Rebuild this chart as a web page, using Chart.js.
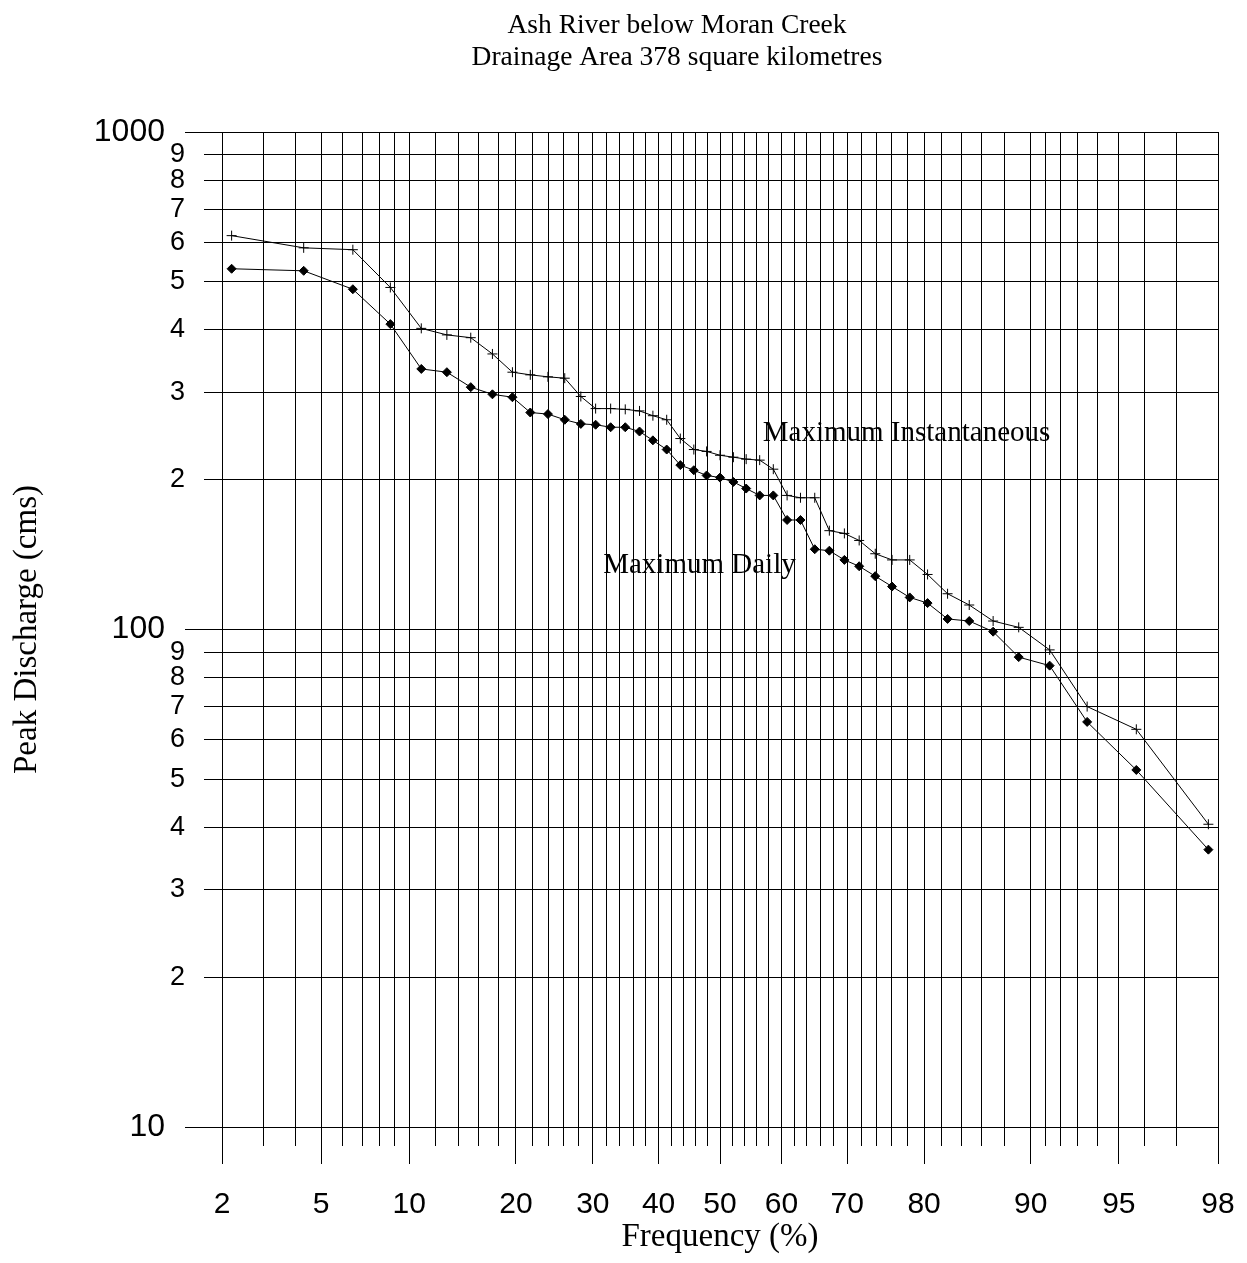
<!DOCTYPE html>
<html>
<head>
<meta charset="utf-8">
<title>Ash River below Moran Creek</title>
<script src="https://cdn.jsdelivr.net/npm/chart.js@4.4.0/dist/chart.umd.min.js"></script>
<style>
  html, body { margin: 0; padding: 0; background: #fff; }
  canvas { display: block; }
</style>
</head>
<body>
<canvas id="chart" width="1247" height="1263"></canvas>
<script>
// ---------------- data ----------------
const titleLines = ['Ash River below Moran Creek', 'Drainage Area 378 square kilometres'];

// plotting positions (frequency, %)
const frequency = [2.2, 4.3, 6.5, 8.7, 10.9, 13.0, 15.2, 17.4, 19.6, 21.7, 23.9, 26.1, 28.3, 30.4, 32.6,
  34.8, 37.0, 39.1, 41.3, 43.5, 45.7, 47.8, 50.0, 52.2, 54.3, 56.5, 58.7, 60.9, 63.0, 65.2,
  67.4, 69.6, 71.7, 73.9, 76.1, 78.3, 80.4, 82.6, 84.8, 87.0, 89.1, 91.3, 93.5, 95.7, 97.8];

// peak discharge (cms)
const maxInstantaneous = [619, 585, 580, 487, 403, 391, 386, 358, 329, 325, 322, 320, 294, 278, 278,
  277, 275, 269, 264, 242, 230, 228, 224, 222, 220, 219, 210, 186, 184, 184,
  158, 156, 151, 142, 138, 138, 129, 118, 112, 104, 101, 91, 70, 63, 40.6];

const maxDaily = [531, 526, 483, 411, 334, 329, 307, 297, 293, 273, 271, 264, 259, 258, 255,
  255, 250, 240, 230, 214, 209, 204, 202, 198, 192, 186, 186, 166, 166, 145,
  144, 138, 134, 128, 122, 116, 113, 105, 104, 99, 88, 84.6, 65.2, 52.2, 36.1];

// axis grid / tick values
const xGridValues = [2, 3, 4, 5, 6, 7, 8, 9, 10, 12, 14, 16, 18, 20, 22, 24, 26, 28, 30, 32, 34, 36, 38,
  40, 42, 44, 46, 48, 50, 52, 54, 56, 58, 60, 62, 64, 66, 68, 70, 72, 74, 76, 78, 80, 82, 84, 86, 88,
  90, 91, 92, 93, 94, 95, 96, 97, 98];
const xTickLabels = [2, 5, 10, 20, 30, 40, 50, 60, 70, 80, 90, 95, 98];

const yGridValues = [10, 20, 30, 40, 50, 60, 70, 80, 90, 100, 200, 300, 400, 500, 600, 700, 800, 900, 1000];
const yMajorValues = [10, 100, 1000];

const annotations = [
  { text: 'Maximum Instantaneous', x: 57.0, y: 239 },
  { text: 'Maximum Daily', x: 31.5, y: 130 }
];

// ---------------- normal probability scale ----------------
function probit(p) {
  const a = [-3.969683028665376e+01, 2.209460984245205e+02, -2.759285104469687e+02, 1.383577518672690e+02, -3.066479806614716e+01, 2.506628277459239e+00];
  const b = [-5.447609879822406e+01, 1.615858368580409e+02, -1.556989798598866e+02, 6.680131188771972e+01, -1.328068155288572e+01];
  const c = [-7.784894002430293e-03, -3.223964580411365e-01, -2.400758277161838e+00, -2.549732539343734e+00, 4.374664141464968e+00, 2.938163982698783e+00];
  const d = [7.784695709041462e-03, 3.224671290700398e-01, 2.445134137142996e+00, 3.754408661907416e+00];
  const pl = 0.02425, ph = 1 - pl;
  let q, r;
  if (p < pl) {
    q = Math.sqrt(-2 * Math.log(p));
    return (((((c[0]*q+c[1])*q+c[2])*q+c[3])*q+c[4])*q+c[5]) / ((((d[0]*q+d[1])*q+d[2])*q+d[3])*q+1);
  }
  if (p <= ph) {
    q = p - 0.5; r = q * q;
    return (((((a[0]*r+a[1])*r+a[2])*r+a[3])*r+a[4])*r+a[5])*q / (((((b[0]*r+b[1])*r+b[2])*r+b[3])*r+b[4])*r+1);
  }
  q = Math.sqrt(-2 * Math.log(1 - p));
  return -(((((c[0]*q+c[1])*q+c[2])*q+c[3])*q+c[4])*q+c[5]) / ((((d[0]*q+d[1])*q+d[2])*q+d[3])*q+1);
}
function normCdf(z) {
  const t = 1 / (1 + 0.3275911 * Math.abs(z) / Math.SQRT2);
  const y = 1 - (((((1.061405429*t - 1.453152027)*t) + 1.421413741)*t - 0.284496736)*t + 0.254829592)*t*Math.exp(-z*z/2);
  return z >= 0 ? 0.5 * (1 + y) : 0.5 * (1 - y);
}

class ProbabilityScale extends Chart.Scale {
  determineDataLimits() {
    this.min = this.options.min;
    this.max = this.options.max;
  }
  buildTicks() {
    return xGridValues.map(v => ({ value: v }));
  }
  getLabelForValue(value) {
    return String(value);
  }
  configure() {
    super.configure();
    this._zStart = probit(this.min / 100);
    this._zRange = probit(this.max / 100) - this._zStart;
  }
  getPixelForValue(value) {
    return this.getPixelForDecimal((probit(value / 100) - this._zStart) / this._zRange);
  }
  getValueForPixel(pixel) {
    return 100 * normCdf(this._zStart + this.getDecimalForPixel(pixel) * this._zRange);
  }
}
ProbabilityScale.id = 'probability';
ProbabilityScale.defaults = {};
Chart.register(ProbabilityScale);

// major y labels and in-plot series labels
const extraText = {
  id: 'extraText',
  afterDraw(chart) {
    const { ctx, scales: { x, y } } = chart;
    ctx.save();
    ctx.fillStyle = '#000';
    ctx.font = '32px "Liberation Sans", Arial, sans-serif';
    ctx.textAlign = 'right';
    ctx.textBaseline = 'middle';
    yMajorValues.forEach(v => ctx.fillText(String(v), y.right - 57, y.getPixelForValue(v)));
    ctx.font = '29px "Liberation Serif", "Times New Roman", serif';
    ctx.textAlign = 'left';
    ctx.textBaseline = 'alphabetic';
    annotations.forEach(a => ctx.fillText(a.text, x.getPixelForValue(a.x), y.getPixelForValue(a.y)));
    ctx.restore();
  }
};

const serif = '"Liberation Serif", "Times New Roman", serif';
const sans = '"Liberation Sans", Arial, sans-serif';

new Chart(document.getElementById('chart'), {
  type: 'scatter',
  data: {
    datasets: [
      {
        label: 'Maximum Instantaneous',
        data: frequency.map((f, i) => ({ x: f, y: maxInstantaneous[i] })),
        showLine: true,
        borderColor: '#000',
        borderWidth: 1,
        pointStyle: 'cross',
        pointRadius: 5,
        pointBorderWidth: 1,
        pointBorderColor: '#000',
        tension: 0
      },
      {
        label: 'Maximum Daily',
        data: frequency.map((f, i) => ({ x: f, y: maxDaily[i] })),
        showLine: true,
        borderColor: '#000',
        borderWidth: 1,
        pointStyle: 'rectRot',
        pointRadius: 4.5,
        pointBackgroundColor: '#000',
        pointBorderColor: '#000',
        pointBorderWidth: 1,
        tension: 0
      }
    ]
  },
  options: {
    responsive: false,
    devicePixelRatio: 1,
    animation: false,
    layout: { padding: { left: 136, right: 29, top: 9.7, bottom: 0 } },
    plugins: {
      legend: { display: false },
      tooltip: { enabled: false },
      title: {
        display: true,
        text: titleLines,
        color: '#000',
        font: { family: serif, size: 27.5, weight: 'normal', lineHeight: '32px' },
        padding: { top: 0, bottom: 58.3 }
      }
    },
    scales: {
      x: {
        type: 'probability',
        position: 'bottom',
        min: 2,
        max: 98,
        afterFit: s => { s.height = 136; },
        ticks: {
          autoSkip: false,
          maxRotation: 0,
          minRotation: 0,
          padding: 0,
          color: '#000',
          font: { family: sans, size: 30, lineHeight: '82px' },
          callback: v => xTickLabels.includes(v) ? String(v) : ''
        },
        grid: {
          color: '#000',
          lineWidth: 1,
          tickLength: 37,
          tickColor: '#000',
          tickWidth: 1,
          tickBorderDash: ctx => (ctx.tick && xTickLabels.includes(ctx.tick.value)) ? [] : [18, 100]
        },
        border: { display: true, color: '#000', width: 1 },
        title: {
          display: true,
          text: 'Frequency (%)',
          color: '#000',
          font: { family: serif, size: 33, weight: 'normal', lineHeight: 1.2 },
          padding: { top: 0, bottom: 5.5 }
        }
      },
      y: {
        type: 'logarithmic',
        position: 'left',
        min: 10,
        max: 1000,
        afterBuildTicks: s => { s.ticks = yGridValues.map(v => ({ value: v })); },
        afterFit: s => { s.width = 86; },
        ticks: {
          autoSkip: false,
          padding: 0,
          color: '#000',
          font: { family: sans, size: 27 },
          callback: v => yMajorValues.includes(v) ? '' : String(Math.round(v / Math.pow(10, Math.floor(Math.log10(v) + 1e-9))))
        },
        grid: {
          color: '#000',
          lineWidth: 1,
          tickLength: 37,
          tickColor: '#000',
          tickWidth: 1,
          tickBorderDash: ctx => (ctx.tick && yMajorValues.includes(ctx.tick.value)) ? [] : [0, 19, 18, 100]
        },
        border: { display: true, color: '#000', width: 1 },
        title: {
          display: true,
          text: 'Peak Discharge (cms)',
          color: '#000',
          font: { family: serif, size: 33, weight: 'normal', lineHeight: 1.2 },
          padding: { top: -128.5, bottom: 0 }
        }
      }
    }
  },
  plugins: [extraText]
});
</script>
</body>
</html>
